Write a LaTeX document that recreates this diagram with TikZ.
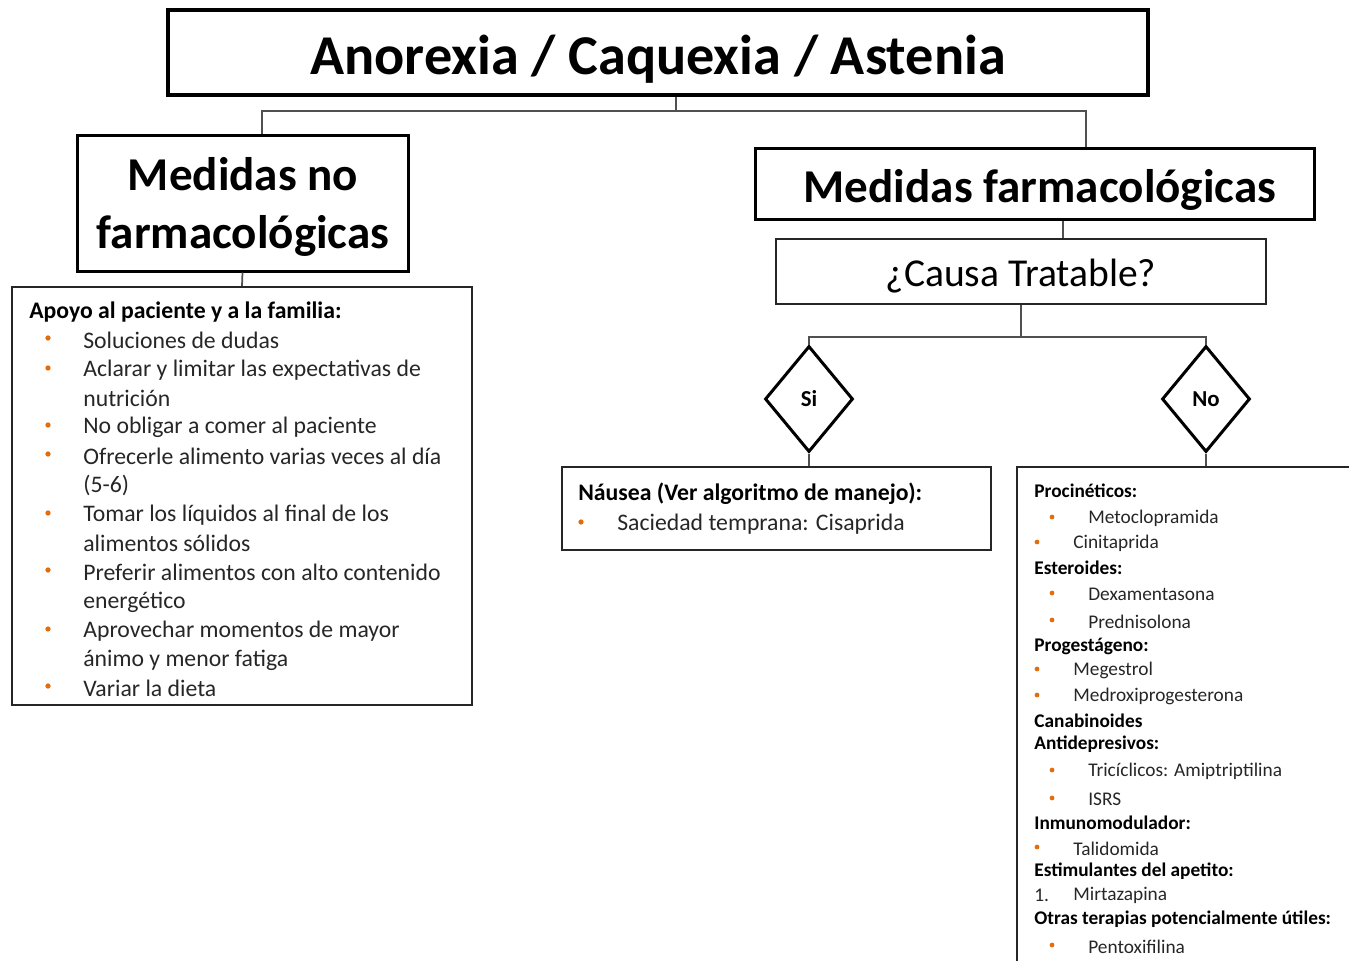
\documentclass[tikz,border=0pt]{standalone}
\usepackage{fontspec}
\setmainfont{Carlito}
\usetikzlibrary{fit,shapes.geometric}

\definecolor{bulletorange}{RGB}{228,108,10}
\definecolor{textgray}{RGB}{38,38,38}
\definecolor{linegray}{RGB}{80,80,80}

\begin{document}
\begin{tikzpicture}[
  x=0.2mm, y=-0.2mm,
  bigbox/.style={
    draw, line width=0.8mm, inner sep=0pt,
  },
  headbox/.style={
    draw, line width=0.6mm, inner sep=0pt
  },
  headtext/.style={
    inner sep=0pt, align=center,
    font=\fontsize{26.8}{32.5}\selectfont\bfseries
  },
  listbox/.style={
    draw=black!85, line width=0.4mm, inner sep=0pt
  },
  choice/.style={
    diamond, draw, line width=0.6mm, inner sep=0pt,
    minimum width=17.6mm, minimum height=21.2mm,
    font=\fontsize{13}{15}\selectfont\bfseries
  },
  link/.style={
    draw=linegray, line width=0.35mm
  },
  item/.style={
    anchor=west, inner sep=0pt, text=textgray, yshift=-0.4mm,
    font=\fontsize{13.5}{16}\selectfont
  },
  smallitem/.style={
    anchor=west, inner sep=0pt, text=textgray, yshift=-0.3mm,
    font=\fontsize{11}{13}\selectfont
  },
  dot/.style={
    circle, fill=bulletorange, inner sep=0pt, minimum size=1.05mm
  }
  ]
  \useasboundingbox (0,0) rectangle (1349,961);
  \clip (0,0) rectangle (1349,961);

  % boxes
  \node[bigbox, fit={(168,10) (1148,95)}] (title) {};
  \node[headbox, fit={(77,135) (408,271)}] (nofarm) {};
  \node[listbox, fit={(12,287) (472,705)}] (apoyo) {};
  \node[headbox, fit={(755,148) (1314,219)}] (farm) {};
  \node[listbox, fit={(776,239) (1266,304)}] (causa) {};
  \node[choice] (si) at (809,399) {Si};
  \node[choice] (no) at (1206,399) {No};
  \node[listbox, fit={(562,467) (991,550)}] (nausea) {};
  \node[listbox, fit={(1017,467) (1380,990)}] (farmacos) {};

  % box texts
  \node[inner sep=0pt, font=\fontsize{32}{38}\selectfont\bfseries] (titletext)
    at (658,59) {Anorexia / Caquexia / Astenia};
  \node[headtext] (nofarmtext) at (243,207) {Medidas no\\farmacológicas};
  \node[headtext] (farmtext) at (1040,190) {Medidas farmacológicas};
  \node[inner sep=0pt, font=\fontsize{22.5}{26}\selectfont] (causatext)
    at (1021,276) {¿Causa Tratable?};

  % connectors
  \coordinate (jt) at (676,111);
  \coordinate (jl) at (262,111);
  \coordinate (jr) at (1086,111);
  \coordinate (jc) at (1063,230);
  \coordinate (js) at (1021,337);
  \draw[link] (title.south -| jt) -- (jt);
  \draw[link] (nofarm.north -| jl) -- (jl) -- (jr) -- (farm.north -| jr);
  \draw[link] (nofarm.south) -- (apoyo.north);
  \draw[link] (farm.south -| jc) -- (causa.north -| jc);
  \draw[link] (causa.south) -- (js);
  \draw[link] (si.north) |- (js) -| (no.north);
  \draw[link] (si.south) -- (si.south |- nausea.north);
  \draw[link] (no.south) -- (no.south |- farmacos.north);

  % no farmacologicas
  \node[item, text=black, font=\fontsize{13.5}{16}\selectfont\bfseries] (apoyohead)
    at (29,310) {Apoyo al paciente y a la familia:};
  \foreach \y/\t [count=\i] in {
    338/Soluciones de dudas,
    368/Aclarar y limitar las expectativas de,
    396/nutrición,
    425/No obligar a comer al paciente,
    454/Ofrecerle alimento varias veces al día,
    483/(5-6),
    513/Tomar los líquidos al final de los,
    541/alimentos sólidos,
    570/Preferir alimentos con alto contenido,
    600/energético,
    629/Aprovechar momentos de mayor,
    658/ánimo y menor fatiga,
    686/Variar la dieta}
    \node[item] (a\i) at (83,\y) {\t};
  \foreach \y [count=\i] in {338,368,425,454,513,570,629,686}
    \node[dot] (ad\i) at (48,\y) {};

  % nausea
  \node[item, text=black, font=\fontsize{13.5}{16}\selectfont\bfseries] (nhead)
    at (578,492) {Náusea (Ver algoritmo de manejo):};
  \node[item] (n1) at (617,522) {Saciedad temprana: Cisaprida};
  \node[dot] (nd1) at (581,522) {};

  % farmacos
  \foreach \y/\t [count=\i] in {
    489/Procinéticos:,
    566/Esteroides:,
    645/Progestágeno:,
    719/Canabinoides,
    743/Antidepresivos:,
    821/Inmunomodulador:,
    870/Estimulantes del apetito:,
    918/Otras terapias potencialmente útiles:}
    \node[smallitem, text=black, font=\fontsize{11}{13}\selectfont\bfseries] (fh\i) at (1034,\y) {\t};
  \foreach \y/\x/\t [count=\i] in {
    517/1088/Metoclopramida,
    542/1073/Cinitaprida,
    593/1088/Dexamentasona,
    620/1088/Prednisolona,
    669/1073/Megestrol,
    695/1073/Medroxiprogesterona,
    770/1088/Tricíclicos: Amiptriptilina,
    798/1088/ISRS,
    847/1073/Talidomida,
    894/1073/Mirtazapina,
    945/1088/Pentoxifilina}
    \node[smallitem] (f\i) at (\x,\y) {\t};
  \foreach \y/\x [count=\i] in {
    517/1052, 542/1037, 593/1052, 620/1052, 669/1037,
    695/1037, 770/1052, 798/1052, 847/1037, 945/1052}
    \node[dot, minimum size=0.95mm] (fd\i) at (\x,\y) {};
  \node[smallitem] (fn1) at (1034,894) {1.};
\end{tikzpicture}
\end{document}
